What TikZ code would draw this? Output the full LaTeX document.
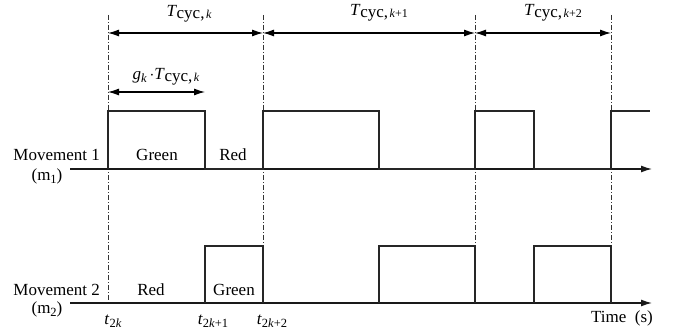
\documentclass[tikz,border=0pt]{standalone}
\usepackage{fontspec}
\setmainfont{Liberation Serif}
\usetikzlibrary{arrows.meta}
\newcommand\Tcyc[1]{\textit{T}\kern-0.3pt\raisebox{-2.5pt}{cyc,\kern1.5pt{\fontsize{12}{13}\selectfont #1}}}
\newcommand\smallsub[1]{\raisebox{-3pt}{\fontsize{12.5}{13}\selectfont #1}}
\begin{document}
\begin{tikzpicture}[x=1pt,y=-1pt,
  sig/.style={line width=1.1pt, draw=black!85},
  axisline/.style={line width=1.3pt, draw=black!90, -{Latex[length=11pt,width=7pt]}},
  dimline/.style={line width=1.1pt, draw=black, {Latex[length=11pt,width=7pt]}-{Latex[length=11pt,width=7pt]}},
  guide/.style={line width=0.7pt, draw=black!80, dash pattern=on 5pt off 2pt on 1pt off 2pt},
  lbl/.style={font=\fontsize{17}{20}\selectfont, inner sep=0pt, text=black}]
\useasboundingbox (0,0) rectangle (674,334);

% guide line coordinates
\foreach \n/\x in {a/108,c/263,e/475,g/611}{
  \coordinate (gt\n) at (\x,15);
  \coordinate (gb\n) at (\x,303);
}
\foreach \n in {a,c,e,g}{\draw[guide] (gt\n) -- (gb\n);}

% cycle dimension arrows
\coordinate (da) at (108,33);
\coordinate (dc) at (263,33);
\coordinate (de) at (475,33);
\coordinate (dg) at (611,33);
\draw[dimline] (da) -- (dc);
\draw[dimline] (dc) -- (de);
\draw[dimline] (de) -- (dg);
\node[lbl] (tk)  at (189,14) {\Tcyc{\textit{k}}};
\node[lbl] (tk1) at (379,13) {\Tcyc{\textit{k}+1}};
\node[lbl] (tk2) at (553,13) {\Tcyc{\textit{k}+2}};

% green-time arrow
\coordinate (ga) at (108,92);
\coordinate (gb) at (205,92);
\draw[dimline] (ga) -- (gb);
\node[lbl] (gl) at (166,77) {\textit{g}\smallsub{\textit{k}}\,$\cdot$\Tcyc{\textit{k}}};

% axes
\coordinate (ax1s) at (70,169);
\coordinate (ax1e) at (652,169);
\coordinate (ax2s) at (70,303);
\coordinate (ax2e) at (652,303);
\draw[axisline] (ax1s) -- (ax1e);
\draw[axisline] (ax2s) -- (ax2e);

% movement 1 signal
\draw[sig] (108,169) -- (108,111) -- (205,111) -- (205,169) -- (263,169)
  -- (263,111) -- (379,111) -- (379,169) -- (475,169) -- (475,111)
  -- (534,111) -- (534,169) -- (611,169) -- (611,111) -- (650,111);

% movement 2 signal
\draw[sig] (205,303) -- (205,246) -- (263,246) -- (263,303);
\draw[sig] (379,303) -- (379,246) -- (475,246) -- (475,303);
\draw[sig] (534,303) -- (534,246) -- (611,246) -- (611,303);

% labels
\node[lbl, anchor=east] (m1) at (100,155) {Movement 1};
\node[lbl] (m1s) at (47,176) {(m\smallsub{1})};
\node[lbl] (g1) at (157,155) {Green};
\node[lbl] (r1) at (233,155) {Red};
\node[lbl, anchor=east] (m2) at (100,290) {Movement 2};
\node[lbl] (m2s) at (47,309) {(m\smallsub{2})};
\node[lbl] (r2) at (151,290) {Red};
\node[lbl] (g2) at (234,290) {Green};
\node[lbl] (t0) at (113,321) {\textit{t}\smallsub{2\textit{k}}};
\node[lbl] (t1) at (213,321) {\textit{t}\smallsub{2\textit{k}+1}};
\node[lbl] (t2) at (272,321) {\textit{t}\smallsub{2\textit{k}+2}};
\node[lbl] (time) at (622,318) {Time~~(s)};
\end{tikzpicture}
\end{document}
